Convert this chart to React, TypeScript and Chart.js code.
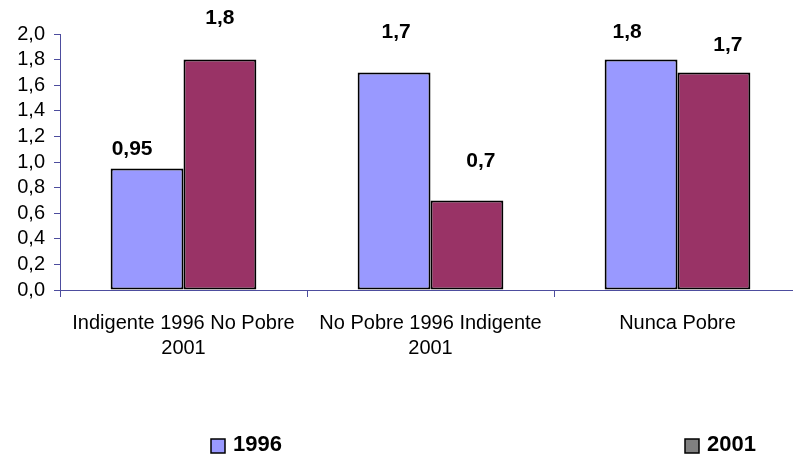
import React, { useEffect, useRef } from "react";
import { Chart, registerables } from "chart.js";

Chart.register(...registerables);

const categories: string[][] = [
  ["Indigente 1996 No Pobre", "2001"],
  ["No Pobre 1996 Indigente", "2001"],
  ["Nunca Pobre"],
];
const series1996 = [0.95, 1.7, 1.8];
const series2001 = [1.8, 0.7, 1.7];
const seriesNames = ["1996", "2001"];
const yMin = 0;
const yMax = 2;
const yStep = 0.2;

// label nudges (dx, dy relative to bar top) as placed in the original
const labelDx = [
  [-15, 2, -14],
  [0, 14, 14],
];
const labelDy = [
  [-19, -40, -27],
  [-41, -39, -27],
];

const AXIS = "#4d4d9e";
const FONT = "Arial, 'Liberation Sans', sans-serif";

const fmt = (v: number, d: number) => v.toFixed(d).replace(".", ",");
const fmtLabel = (v: number) => String(v).replace(".", ",");

const labelsPlugin = {
  id: "valueLabels",
  afterDatasetsDraw(chart: any) {
    const ctx = chart.ctx;
    ctx.save();
    ctx.font = `bold 21px ${FONT}`;
    ctx.fillStyle = "#000";
    ctx.textAlign = "center";
    ctx.textBaseline = "middle";
    chart.data.datasets.forEach((ds: any, di: number) => {
      const meta = chart.getDatasetMeta(di);
      meta.data.forEach((bar: any, i: number) => {
        ctx.fillText(
          fmtLabel(ds.data[i]),
          bar.x + labelDx[di][i],
          bar.y + labelDy[di][i]
        );
      });
    });
    ctx.restore();
  },
};

const legendPlugin = {
  id: "customLegend",
  afterDraw(chart: any) {
    const ctx = chart.ctx;
    ctx.save();
    const items = [
      { x: 211, text: seriesNames[0], color: "#9999FF" },
      { x: 685, text: seriesNames[1], color: "#808080" },
    ];
    items.forEach((it) => {
      ctx.fillStyle = it.color;
      ctx.fillRect(it.x, 439, 14, 14);
      ctx.strokeStyle = "#000";
      ctx.lineWidth = 1.5;
      ctx.strokeRect(it.x, 439, 14, 14);
      ctx.fillStyle = "#000";
      ctx.font = `bold 22px ${FONT}`;
      ctx.textAlign = "left";
      ctx.textBaseline = "middle";
      ctx.fillText(it.text, it.x + 22, 445);
    });
    ctx.restore();
  },
};

export default function App() {
  const ref = useRef<HTMLCanvasElement | null>(null);
  useEffect(() => {
    if (!ref.current) return;
    const chart = new Chart(ref.current, {
      type: "bar",
      data: {
        labels: categories,
        datasets: [
          {
            label: seriesNames[0],
            data: series1996,
            backgroundColor: "#9999FF",
            borderColor: "#000",
            borderWidth: 2,
            borderSkipped: false,
          },
          {
            label: seriesNames[1],
            data: series2001,
            backgroundColor: "#993366",
            borderColor: "#000",
            borderWidth: 2,
            borderSkipped: false,
          },
        ],
      },
      options: {
        animation: false,
        responsive: false,
        devicePixelRatio: 1,
        layout: { padding: { top: 34, right: 9, left: 0, bottom: 0 } },
        plugins: {
          legend: { display: false },
          tooltip: { enabled: false },
        },
        datasets: {
          bar: { categoryPercentage: 0.59, barPercentage: 1 },
        },
        scales: {
          x: {
            grid: {
              display: true,
              drawOnChartArea: false,
              drawTicks: true,
              tickLength: 7,
              tickColor: AXIS,
              offset: true,
            },
            border: { display: true, color: AXIS, width: 1 },
            ticks: {
              color: "#000",
              font: { family: FONT, size: 20, lineHeight: 1.25 },
              padding: 14,
              maxRotation: 0,
              autoSkip: false,
            },
            afterFit: (scale: any) => {
              scale.height = 167;
            },
          },
          y: {
            min: yMin,
            max: yMax,
            grid: {
              display: true,
              drawOnChartArea: false,
              drawTicks: true,
              tickLength: 6,
              tickColor: AXIS,
            },
            border: { display: true, color: AXIS, width: 1 },
            ticks: {
              stepSize: yStep,
              autoSkip: false,
              color: "#000",
              font: { family: FONT, size: 20 },
              padding: 9,
              callback: (v: any) => fmt(Number(v), 1),
            },
            afterFit: (scale: any) => {
              scale.width = 60;
            },
          },
        },
      },
      plugins: [labelsPlugin, legendPlugin],
    });
    return () => chart.destroy();
  }, []);

  return (
    <div
      style={{
        position: "fixed",
        left: 0,
        top: 0,
        width: 793,
        height: 457,
        overflow: "hidden",
        background: "#fff",
      }}
    >
      <canvas ref={ref} width={810} height={457} style={{ display: "block" }} />
    </div>
  );
}
